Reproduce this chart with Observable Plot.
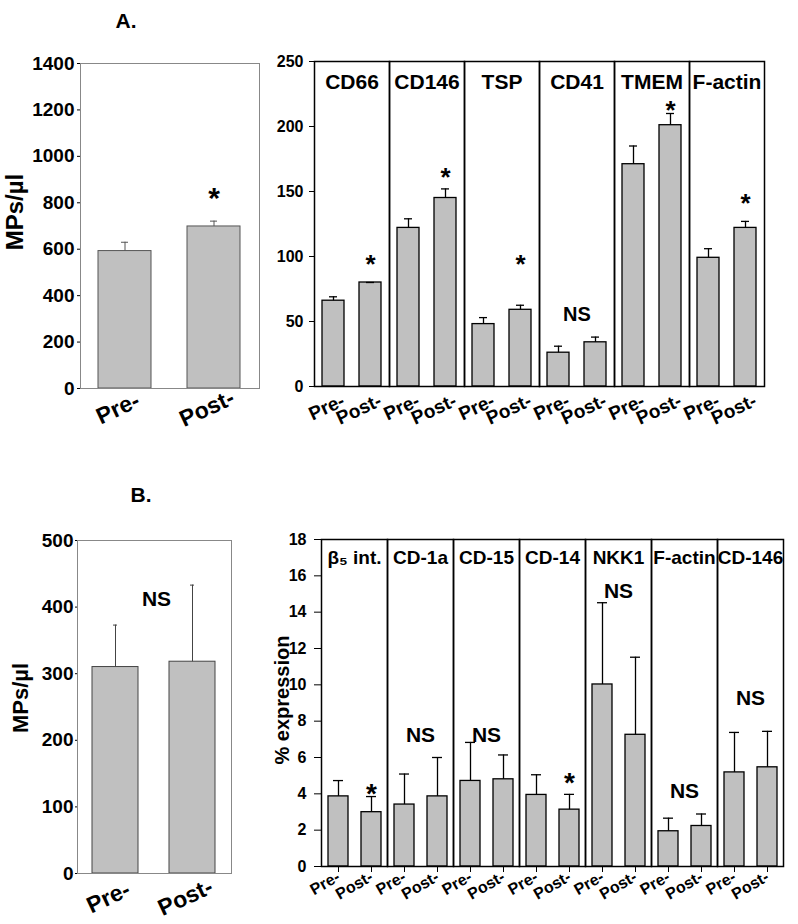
<!DOCTYPE html>
<html><head><meta charset="utf-8">
<script src="https://cdn.jsdelivr.net/npm/d3@7"></script>
<script src="https://cdn.jsdelivr.net/npm/@observablehq/plot@0.6"></script>
<style>
html,body{margin:0;padding:0;background:#fff;}
#wrap{position:relative;width:798px;height:924px;font-family:"Liberation Sans",Arial,"DejaVu Sans",sans-serif;font-weight:bold;color:#000;overflow:hidden;}
.panel{position:absolute;}
.title{position:absolute;font-size:21px;font-weight:bold;transform:translate(-50%,-50%);}
</style></head><body>
<div id="wrap">
  <div id="a1" class="panel" style="left:0;top:0"></div>
  <div id="a2" class="panel" style="left:262px;top:0"></div>
  <div id="b1" class="panel" style="left:0;top:460px"></div>
  <div id="b2" class="panel" style="left:262px;top:460px"></div>
  <div class="title" style="left:126px;top:21px">A.</div>
  <div class="title" style="left:141px;top:495px">B.</div>
</div>
<script>
// ---------- data ----------
const conditions = ["Pre-", "Post-"];

// Panel A, total MPs
const aTotalMean = [592, 698];
const aTotalErr = [38, 23];
const aTotalTicks = [0, 200, 400, 600, 800, 1000, 1200, 1400];
const aTotalNote = "*";
const aTotalNoteY = 853;

// Panel A, markers
const markersA = ["CD66", "CD146", "TSP", "CD41", "TMEM", "F-actin"];
const preA = [66, 122, 48, 26, 171, 99];
const preAErr = [3, 7, 5, 5, 14, 7];
const postA = [80, 145, 59, 34, 201, 122];
const postAErr = [0, 7, 3.5, 4, 9, 5];
const aMarkerTicks = [0, 50, 100, 150, 200, 250];
const notesA = ["*", "*", "*", "NS", "*", "*"];
const notesAPos = ["Post-", "Post-", "Post-", "mid", "Post-", "Post-"];
const notesAY = [99, 166, 99, 55, 217, 146];

// Panel B, total MPs
const bTotalMean = [310, 318];
const bTotalErr = [63, 115];
const bTotalTicks = [0, 100, 200, 300, 400, 500];
const bTotalNote = "NS";
const bTotalNoteY = 412;

// Panel B, markers (% expression)
const markersB = ["β₅ int.", "CD-1a", "CD-15", "CD-14", "NKK1", "F-actin", "CD-146"];
const preB = [3.86, 3.41, 4.71, 3.94, 10.02, 1.94, 5.18];
const preBErr = [0.87, 1.68, 2.12, 1.11, 4.5, 0.72, 2.2];
const postB = [2.99, 3.86, 4.80, 3.13, 7.25, 2.23, 5.46];
const postBErr = [0.86, 2.14, 1.34, 0.84, 4.27, 0.66, 1.98];
const bMarkerTicks = [0, 2, 4, 6, 8, 10, 12, 14, 16, 18];
const notesB = ["*", "NS", "NS", "*", "NS", "NS", "NS"];
const notesBPos = ["Post-", "mid", "mid", "Post-", "mid", "mid", "mid"];
const notesBY = [4.36, 7.2, 7.2, 5.0, 15.16, 4.14, 9.27];

// ---------- helpers ----------
const FONT = "'Liberation Sans', Arial, 'DejaVu Sans', sans-serif";
const style = (fs) => ({fontFamily: FONT, fontWeight: "bold", fontSize: fs + "px", overflow: "visible", background: "transparent", color: "#000"});

const aTotal = conditions.map((c, i) => ({cond: c, mean: aTotalMean[i], top: aTotalMean[i] + aTotalErr[i]}));
const bTotal = conditions.map((c, i) => ({cond: c, mean: bTotalMean[i], top: bTotalMean[i] + bTotalErr[i]}));
const rowsOf = (markers, pre, preErr, post, postErr) => markers.flatMap((m, i) => [
  {marker: m, cond: "Pre-", mean: pre[i], top: pre[i] + preErr[i]},
  {marker: m, cond: "Post-", mean: post[i], top: post[i] + postErr[i]}
]);
const aRows = rowsOf(markersA, preA, preAErr, postA, postAErr);
const bRows = rowsOf(markersB, preB, preBErr, postB, postBErr);
const notesOf = (markers, notes, pos, ys) => markers.map((m, i) => ({marker: m, text: notes[i], pos: pos[i], y: ys[i]}));
const aNotes = notesOf(markersA, notesA, notesAPos, notesAY);
const bNotes = notesOf(markersB, notesB, notesBPos, notesBY);

// ---------- A1 ----------
const a1 = Plot.plot({
  width: 262, height: 460,
  marginLeft: 80, marginRight: 3, marginTop: 63, marginBottom: 72,
  style: style(19),
  x: {domain: conditions, paddingInner: 0.4, paddingOuter: 0.2, axis: null},
  y: {domain: [0, 1400], ticks: aTotalTicks, tickSize: 3, tickPadding: 3, tickFormat: d => String(d), label: null},
  marks: [
    Plot.barY(aTotal, {x: "cond", y: "mean", fill: "#c0c0c0", stroke: "#555", strokeWidth: 1}),
    Plot.ruleX(aTotal, {x: "cond", y1: "mean", y2: "top", stroke: "#555", strokeWidth: 1}),
    Plot.tickY(aTotal, {x: "cond", y: "top", stroke: "#555", strokeWidth: 1, insetLeft: 23, insetRight: 23}),
    Plot.frame({stroke: "#888", strokeWidth: 1}),
    Plot.text(conditions, {x: d => d, text: d => d, frameAnchor: "bottom", rotate: -25, textAnchor: "middle", lineAnchor: "middle", dx: -7, dy: 20, fontSize: 23}),
    Plot.text([aTotalNote], {x: () => "Post-", y: () => aTotalNoteY, text: d => d, fontSize: 30, dy: 7.6}),
    Plot.text(["MPs/µl"], {text: d => d, frameAnchor: "left", rotate: -90, textAnchor: "middle", lineAnchor: "middle", dx: -65, dy: -14, fontSize: 24})
  ]
});
document.getElementById("a1").append(a1);

// ---------- A2 ----------
const a2 = Plot.plot({
  width: 536, height: 460,
  marginLeft: 51, marginRight: 33, marginTop: 61, marginBottom: 74,
  style: style(16),
  fx: {domain: markersA, padding: 0, axis: null, label: null},
  x: {domain: conditions, paddingInner: 0.4, paddingOuter: 0.2, axis: null},
  y: {domain: [0, 250], ticks: aMarkerTicks, tickSize: 5, tickPadding: 6, tickFormat: d => String(d), label: null},
  marks: [
    Plot.barY(aRows, {fx: "marker", x: "cond", y: "mean", fill: "#c0c0c0", stroke: "#000", strokeWidth: 1.3}),
    Plot.ruleX(aRows, {fx: "marker", x: "cond", y1: "mean", y2: "top", stroke: "#000", strokeWidth: 1.3}),
    Plot.tickY(aRows, {fx: "marker", x: "cond", y: "top", stroke: "#000", strokeWidth: 1.3, insetLeft: 7, insetRight: 7}),
    Plot.frame({stroke: "#000", strokeWidth: 1.5}),
    Plot.text(markersA, {fx: d => d, text: d => d, frameAnchor: "top", lineAnchor: "middle", dy: 21, fontSize: 21}),
    Plot.text(aRows, {fx: "marker", x: "cond", text: "cond", frameAnchor: "bottom", rotate: -25, textAnchor: "end", lineAnchor: "middle", dx: 10, dy: 13, fontSize: 19}),
    Plot.text(aNotes.filter(d => d.pos !== "mid"), {fx: "marker", x: "pos", y: "y", text: "text", fontSize: 26, dy: 6.6}),
    Plot.text(aNotes.filter(d => d.pos === "mid"), {fx: "marker", y: "y", text: "text", fontSize: 20})
  ]
});
document.getElementById("a2").append(a2);

// ---------- B1 ----------
const b1 = Plot.plot({
  width: 262, height: 464,
  marginLeft: 77, marginRight: 31, marginTop: 80, marginBottom: 51,
  style: style(19),
  x: {domain: conditions, paddingInner: 0.4, paddingOuter: 0.2, axis: null},
  y: {domain: [0, 500], ticks: bTotalTicks, tickSize: 2, tickPadding: 2, tickFormat: d => String(d), label: null},
  marks: [
    Plot.barY(bTotal, {x: "cond", y: "mean", fill: "#c0c0c0", stroke: "#444", strokeWidth: 1}),
    Plot.ruleX(bTotal, {x: "cond", y1: "mean", y2: "top", stroke: "#444", strokeWidth: 1}),
    Plot.tickY(bTotal, {x: "cond", y: "top", stroke: "#444", strokeWidth: 1, insetLeft: 21, insetRight: 21}),
    Plot.frame({stroke: "#888", strokeWidth: 1}),
    Plot.text(conditions, {x: d => d, text: d => d, frameAnchor: "bottom", rotate: -25, textAnchor: "middle", lineAnchor: "middle", dx: -7, dy: 24, fontSize: 23}),
    Plot.text([bTotalNote], {y: () => bTotalNoteY, text: d => d, fontSize: 21, dx: 2}),
    Plot.text(["MPs/µl"], {text: d => d, frameAnchor: "left", rotate: -90, textAnchor: "middle", lineAnchor: "middle", dx: -57, dy: -9, fontSize: 22})
  ]
});
document.getElementById("b1").append(b1);

// ---------- B2 ----------
const b2 = Plot.plot({
  width: 536, height: 464,
  marginLeft: 56, marginRight: 12, marginTop: 79, marginBottom: 58,
  style: style(16),
  fx: {domain: markersB, padding: 0, axis: null, label: null},
  x: {domain: conditions, paddingInner: 0.4, paddingOuter: 0.2, label: null, axis: null},
  y: {domain: [0, 18], ticks: bMarkerTicks, tickSize: 7, tickPadding: 8, tickFormat: d => String(d), label: null},
  marks: [
    Plot.barY(bRows, {fx: "marker", x: "cond", y: "mean", fill: "#c0c0c0", stroke: "#000", strokeWidth: 1.3}),
    Plot.ruleX(bRows, {fx: "marker", x: "cond", y1: "mean", y2: "top", stroke: "#000", strokeWidth: 1.3}),
    Plot.tickY(bRows, {fx: "marker", x: "cond", y: "top", stroke: "#000", strokeWidth: 1.3, insetLeft: 5, insetRight: 5}),
    Plot.frame({stroke: "#000", strokeWidth: 1.5}),
    Plot.axisX({tickRotate: -30, tickSize: 6, tickPadding: 3, fontSize: 16, label: null}),
    Plot.text(markersB, {fx: d => d, text: d => d, frameAnchor: "top", lineAnchor: "middle", dy: 18, fontSize: 19}),
    Plot.text(bNotes.filter(d => d.pos !== "mid"), {fx: "marker", x: "pos", y: "y", text: "text", fontSize: 28, dy: 7.1}),
    Plot.text(bNotes.filter(d => d.pos === "mid"), {fx: "marker", y: "y", text: "text", fontSize: 21}),
    Plot.text([{marker: markersB[0], label: "% expression"}], {fx: "marker", text: "label", frameAnchor: "left", rotate: -90, textAnchor: "middle", lineAnchor: "middle", dx: -39, dy: -3, fontSize: 20})
  ]
});
document.getElementById("b2").append(b2);
</script>
</body></html>
